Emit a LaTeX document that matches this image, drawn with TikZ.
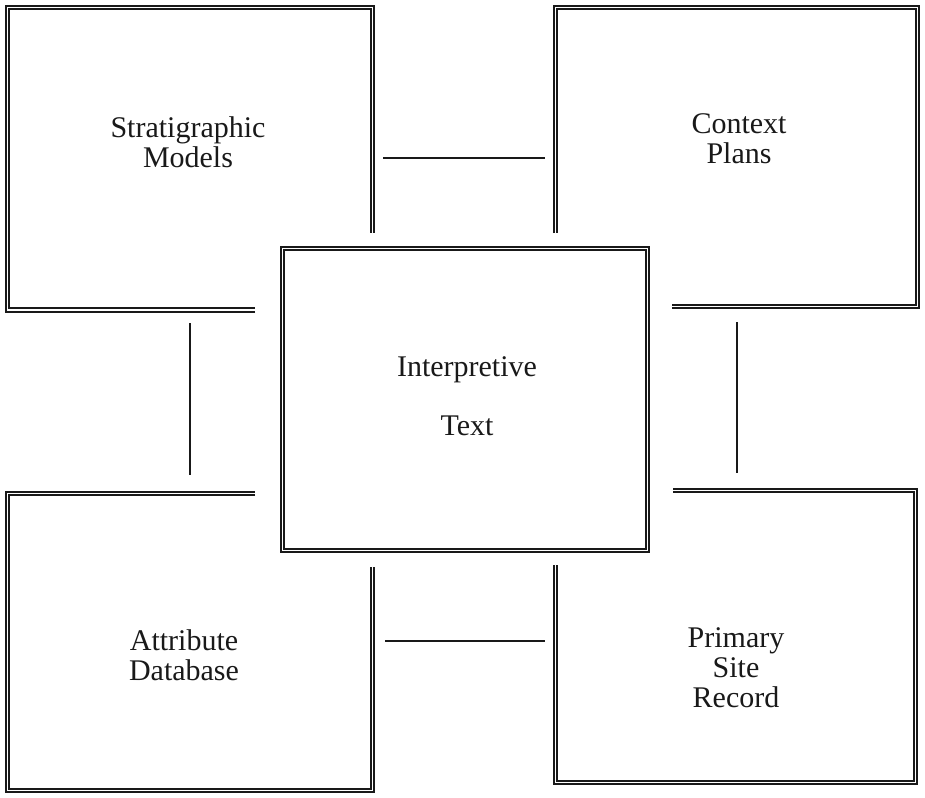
\documentclass[tikz,border=0pt]{standalone}
\usepackage{fontspec}
\setmainfont{Liberation Serif}
\begin{document}
\begin{tikzpicture}[x=1pt,y=-1pt,
  frame/.style={draw=black!90, line width=1.7pt, double=white, double distance=1.8pt},
  link/.style={draw=black!90, line width=1.4pt},
  lbl/.style={font=\fontsize{30}{30}\selectfont, align=center, inner sep=0pt, anchor=north, text=black!90}]
\useasboundingbox (0,0) rectangle (925,797);
% corner frames
\draw[frame] (255,310) -- (7.5,310) -- (7.5,7.5) -- (372.5,7.5) -- (372.5,233);
\draw[frame] (555.5,233) -- (555.5,7.5) -- (917.5,7.5) -- (917.5,306.5) -- (672,306.5);
\draw[frame] (255,493.5) -- (7.5,493.5) -- (7.5,790.5) -- (372.5,790.5) -- (372.5,567);
\draw[frame] (673,490.5) -- (915.5,490.5) -- (915.5,782.5) -- (555.5,782.5) -- (555.5,565);
% centre frame
\draw[frame] (282.5,248.5) rectangle (647.5,550.5);
% labels
\node[lbl] (strat) at (188,116) {\strut Stratigraphic\\\strut Models};
\node[lbl] (ctx) at (739,112) {\strut Context\\\strut Plans};
\node[lbl] (attr) at (184,629) {\strut Attribute\\\strut Database};
\node[lbl] (prim) at (736,626) {\strut Primary\\\strut Site\\\strut Record};
\node[lbl] (interp) at (467,355) {\strut Interpretive\\[29pt]\strut Text};
% connectors
\coordinate (a1) at (383,158); \coordinate (a2) at (545,158);
\coordinate (b1) at (385,641); \coordinate (b2) at (545,641);
\coordinate (c1) at (190,323); \coordinate (c2) at (190,475);
\coordinate (d1) at (737,322); \coordinate (d2) at (737,473);
\draw[link] (a1) -- (a2);
\draw[link] (b1) -- (b2);
\draw[link] (c1) -- (c2);
\draw[link] (d1) -- (d2);
\end{tikzpicture}
\end{document}
